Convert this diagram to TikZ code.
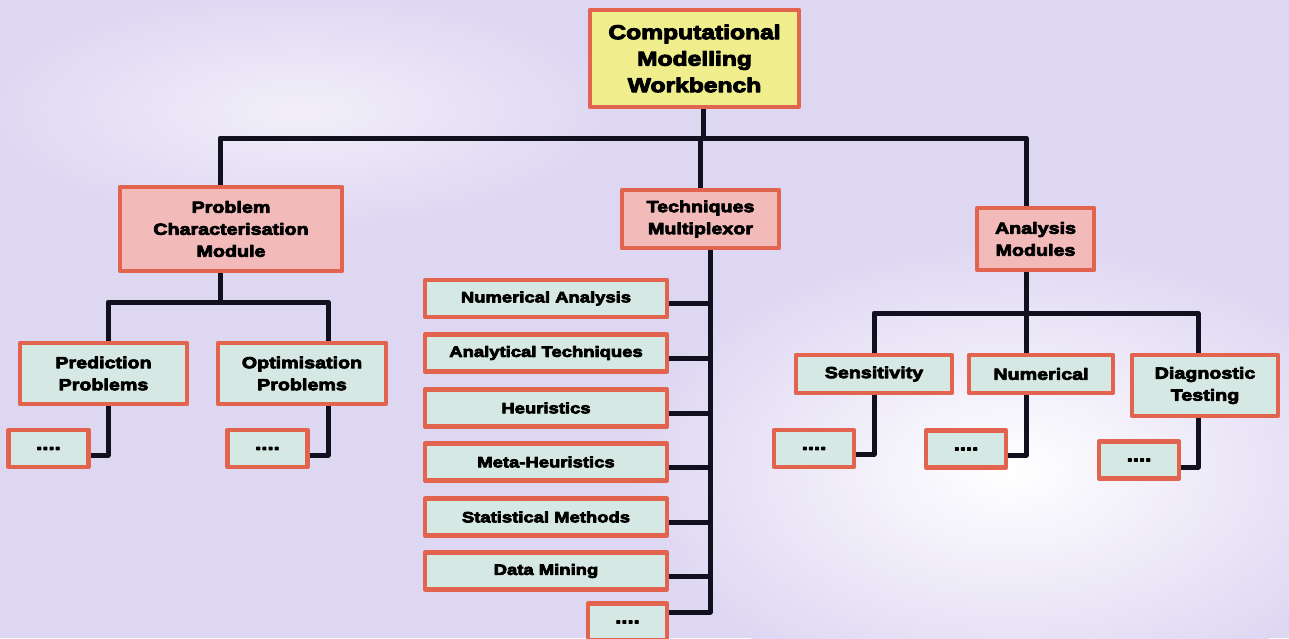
\documentclass[tikz,border=0pt]{standalone}
\usepackage{fontspec}
\newfontfamily\boxfont{Liberation Sans}[FakeStretch=1.23, FakeBold=5]
\usetikzlibrary{calc}

\definecolor{bgcol}{RGB}{222,215,242}
\definecolor{edgecol}{RGB}{226,100,78}
\definecolor{topfill}{RGB}{240,238,140}
\definecolor{midfill}{RGB}{243,186,186}
\definecolor{leaffill}{RGB}{214,232,228}
\definecolor{linkcol}{RGB}{16,16,30}

\tikzset{
  box/.style={draw=edgecol, line width=4.5pt, inner sep=0pt, align=center,
    font=\boxfont\bfseries\fontsize{16}{22}\selectfont},
  topbox/.style={box, fill=topfill, font=\boxfont\bfseries\fontsize{20}{26.5}\selectfont},
  midbox/.style={box, fill=midfill},
  leafbox/.style={box, fill=leaffill},
  listbox/.style={leafbox, minimum width=242pt, minimum height=37pt,
    font=\boxfont\bfseries\fontsize{15}{18}\selectfont},
  dotbox/.style={leafbox, minimum width=80pt, minimum height=37pt,
    font=\boxfont\bfseries\fontsize{18}{18}\selectfont},
  link/.style={draw=linkcol, line width=5pt}
}

\begin{document}
\begin{tikzpicture}[x=1pt, y=-1pt, line join=round]
    % 背景 (淡紫色, 右侧偏白)
    \useasboundingbox (0,0) rectangle (1289,638);
    \fill[bgcol] (0,0) rectangle (1289,638);
    \begin{scope}
        \clip (0,0) rectangle (1289,638);
        \shade[inner color=white, outer color=bgcol] (1010,470) ellipse (380pt and 230pt);
        \shade[inner color=white!60!bgcol, outer color=bgcol] (300,110) ellipse (320pt and 120pt);
    \end{scope}

    % 总线坐标
    \coordinate (busTop) at (703,138);
    \coordinate (busL) at (220,302);
    \coordinate (busR) at (1026,313);

    % 1. 顶层
    \node[topbox, minimum width=209pt, minimum height=97pt] (cmw) at (694.5,58.5)
        {Computational\\Modelling\\Workbench};

    % 2. 第二层
    \node[midbox, minimum width=222pt, minimum height=84pt] (pcm) at (231,229)
        {Problem\\Characterisation\\Module};
    \node[midbox, minimum width=157pt, minimum height=58pt] (tm) at (700.5,219)
        {Techniques\\Multiplexor};
    \node[midbox, minimum width=117pt, minimum height=62pt] (am) at (1035.5,239)
        {Analysis\\Modules};

    % 3. 左分支
    \node[leafbox, minimum width=167pt, minimum height=61pt] (pred) at (103.5,373.5)
        {Prediction\\Problems};
    \node[leafbox, minimum width=168pt, minimum height=61pt] (opt) at (302,373.5)
        {Optimisation\\Problems};
    \node[dotbox] (predx) at (48.5,448.5) {....};
    \node[dotbox] (optx) at (267.5,448.5) {....};

    % 4. 中间列表
    \node[listbox] (na) at (546,298.5) {Numerical Analysis};
    \node[listbox] (at) at (546,353) {Analytical Techniques};
    \node[listbox] (heu) at (546,408) {Heuristics};
    \node[listbox] (meta) at (546,462) {Meta-Heuristics};
    \node[listbox] (stat) at (546,517) {Statistical Methods};
    \node[listbox] (dm) at (546,571) {Data Mining};
    \node[dotbox, minimum width=79pt] (tmx) at (627.5,622) {....};

    % 5. 右分支
    \node[leafbox, minimum width=156pt, minimum height=38pt] (sens) at (874,374)
        {Sensitivity};
    \node[leafbox, minimum width=144pt, minimum height=38pt] (num) at (1041,374)
        {Numerical};
    \node[leafbox, minimum width=146pt, minimum height=61pt] (diag) at (1205,385.5)
        {Diagnostic\\Testing};
    \node[dotbox] (sensx) at (814,448.5) {....};
    \node[dotbox] (numx) at (966,449) {....};
    \node[dotbox] (diagx) at (1139,460) {....};

    % 连线: 顶层 -> 第二层
    \draw[link] ([xshift=8.5]cmw.south) -- (busTop);
    \draw[link] (pcm.north -| busL) |- (busTop) -| ([xshift=-9.5]am.north);
    \draw[link] (tm.north) -- (tm.north |- busTop);

    % 连线: 左分支
    \draw[link] (pcm.south -| busL) -- (busL);
    \draw[link] ([xshift=4.5]pred.north) |- (busL) -| ([xshift=26]opt.north);
    \draw[link] ([xshift=4.5]pred.south) |- ([yshift=-6.5]predx.east);
    \draw[link] ([xshift=26]opt.south) |- ([yshift=-6.5]optx.east);

    % 连线: 中间列表 (竖直总线在 x=710)
    \coordinate (busM) at ([xshift=9.5]tm.south);
    \draw[link] (busM) |- ([yshift=10]tmx.east);
    \foreach \n in {na, at, heu, meta, stat, dm}
        \draw[link] ([yshift=-5]\n.east) -- ([yshift=-5]\n.east -| busM);

    % 连线: 右分支
    \draw[link] ([xshift=-9.5]am.south) -- (busR);
    \draw[link] (sens.north) |- (busR) -| ([xshift=-7]diag.north);
    \draw[link] (busR) -- ([xshift=-15]num.north);
    \draw[link] (sens.south) |- ([yshift=-5.5]sensx.east);
    \draw[link] ([xshift=-15]num.south) |- ([yshift=-6]numx.east);
    \draw[link] ([xshift=-7]diag.south) |- ([yshift=-7]diagx.east);
\end{tikzpicture}
\end{document}
